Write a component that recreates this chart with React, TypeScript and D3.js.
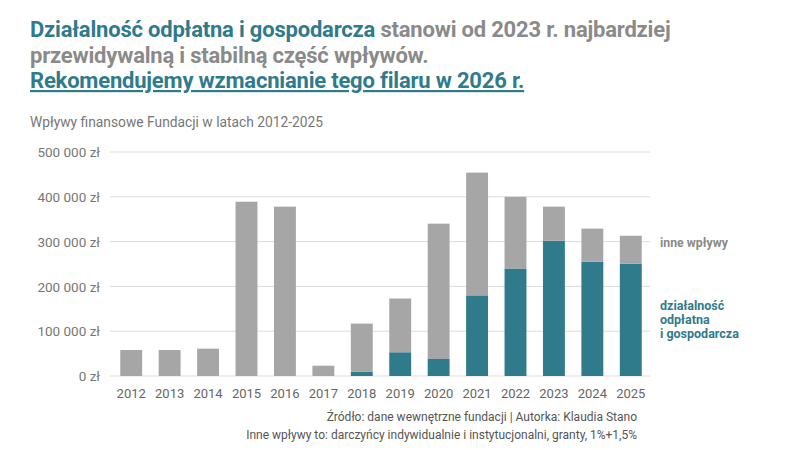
import React from 'react';
import * as d3 from 'd3';

const years = ['2012', '2013', '2014', '2015', '2016', '2017', '2018', '2019', '2020', '2021', '2022', '2023', '2024', '2025'];
// działalność odpłatna i gospodarcza
const paidActivity = [0, 0, 0, 0, 0, 0, 10000, 53000, 38000, 180000, 240000, 302000, 255000, 251000];
// total inflows (top of stack)
const totals = [58000, 58000, 61000, 389000, 378000, 23000, 117000, 173000, 340000, 454000, 400000, 378000, 329000, 313000];
const yTicks = [0, 100000, 200000, 300000, 400000, 500000];

const TEAL = '#2f7b8c';
const GREY = '#a6a6a6';
const FONT = 'Roboto, "Liberation Sans", Arial, sans-serif';

const margin = { top: 152, right: 150, bottom: 74, left: 112 };
const W = 800;
const H = 450;

export default function App() {
  const x = d3
    .scaleBand<string>()
    .domain(years)
    .range([margin.left, W - margin.right])
    .paddingInner(0.43)
    .paddingOuter(0.215);

  const y = d3
    .scaleLinear()
    .domain([0, 500000])
    .range([H - margin.bottom, margin.top]);

  const fmt = (v: number) => d3.format(',')(v).replace(/,/g, ' ') + ' zł';

  const rows = years.map((yr, i) => ({ year: yr, paid: paidActivity[i], other: totals[i] - paidActivity[i] }));
  const stack = d3.stack<{ year: string; paid: number; other: number }>().keys(['paid', 'other']);
  const layers = stack(rows);
  const colors = [TEAL, GREY];

  return (
    <svg width={W} height={H} style={{ display: 'block', margin: -8, background: '#fff' }} fontFamily={FONT}>
      {/* title */}
      <text x={30} y={37} fontSize={22} fontWeight={700} fill="#8a8a8a" letterSpacing={-0.2}>
        <tspan fill={TEAL}>Działalność odpłatna i gospodarcza</tspan>
        <tspan> stanowi od 2023 r. najbardziej</tspan>
      </text>
      <text x={30} y={63} fontSize={22} fontWeight={700} fill="#8a8a8a" letterSpacing={-0.2}>
        przewidywalną i stabilną część wpływów.
      </text>
      <text x={30} y={88} fontSize={22} fontWeight={700} fill={TEAL} letterSpacing={-0.2} textDecoration="underline">
        Rekomendujemy wzmacnianie tego filaru w 2026 r.
      </text>

      <text x={30} y={127} fontSize={13.8} fill="#777">
        Wpływy finansowe Fundacji w latach 2012-2025
      </text>

      {/* grid + y labels */}
      {yTicks.map(t => (
        <g key={t}>
          <line x1={margin.left - 2} x2={W - margin.right} y1={y(t)} y2={y(t)} stroke="#dcdcdc" strokeWidth={1} />
          <text x={100} y={y(t)} dy="0.38em" textAnchor="end" fontSize={13.5} fill="#777">
            {fmt(t)}
          </text>
        </g>
      ))}

      {/* bars */}
      {layers.map((layer, li) =>
        layer.map(d => {
          const h = y(d[0]) - y(d[1]);
          if (h <= 0) return null;
          return (
            <rect
              key={layer.key + d.data.year}
              x={x(d.data.year)!}
              y={y(d[1])}
              width={x.bandwidth()}
              height={h}
              fill={colors[li]}
            />
          );
        })
      )}

      {/* x labels */}
      {years.map(yr => (
        <text key={yr} x={x(yr)! + x.bandwidth() / 2} y={398} textAnchor="middle" fontSize={13} fill="#666">
          {yr}
        </text>
      ))}

      {/* legend */}
      <text x={660} y={247} fontSize={12.3} fontWeight={700} fill="#8a8a8a">
        inne wpływy
      </text>
      <text x={660} y={310} fontSize={12.5} fontWeight={700} fill={TEAL}>
        <tspan x={660} dy={0}>działalność</tspan>
        <tspan x={660} dy={14}>odpłatna</tspan>
        <tspan x={660} dy={14}>i gospodarcza</tspan>
      </text>

      {/* footer */}
      <text x={637} y={421} textAnchor="end" fontSize={12} fill="#555">
        Źródło: dane wewnętrzne fundacji | Autorka: Klaudia Stano
      </text>
      <text x={637} y={439} textAnchor="end" fontSize={12} fill="#555">
        Inne wpływy to: darczyńcy indywidualnie i instytucjonalni, granty, 1%+1,5%
      </text>
    </svg>
  );
}
